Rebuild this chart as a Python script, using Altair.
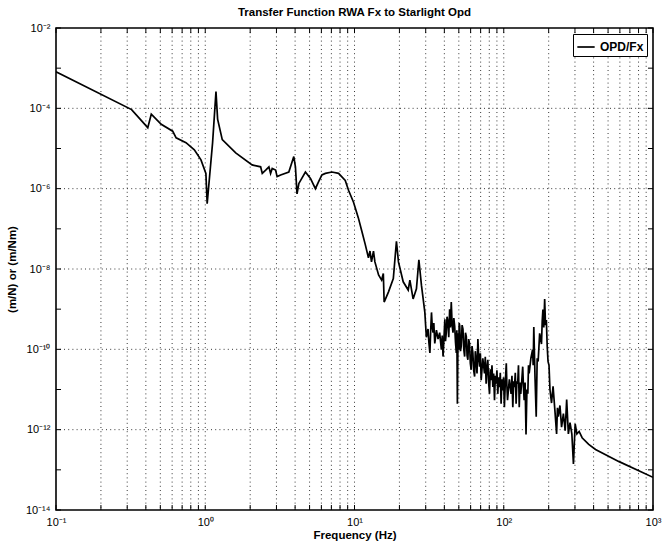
import altair as alt
import pandas as pd

# Transfer function magnitude, reaction-wheel force Fx -> starlight OPD
# Structural resonance region, 0.1 - 28 Hz
low_freq_hz = [
    0.1, 0.321, 0.412, 0.435, 0.507, 0.605, 0.638, 0.743, 0.845, 0.936,
    1.01, 1.03, 1.12, 1.18, 1.21, 1.30, 1.60, 2.06, 2.35, 2.41,
    2.54, 2.67, 2.74, 2.81, 2.96, 3.03, 3.20, 3.63, 3.92, 4.02,
    4.12, 4.24, 4.69, 5.07, 5.47, 5.75, 6.05, 6.38, 7.06, 7.82,
    8.67, 9.12, 9.85, 10.6, 11.2, 11.8, 12.4, 12.7, 13.0, 13.4,
    13.7, 14.5, 15.2, 15.6, 15.8, 16.9, 18.2, 19.1, 19.7, 21.2,
    22.9, 23.5, 24.7, 26.0, 27.0, 28.1,
]
low_opd_per_fx = [
    8.1e-4, 9.3e-5, 3.3e-5, 7.2e-5, 4.0e-5, 2.7e-5, 1.85e-5, 1.4e-5, 9.3e-6, 5.2e-6,
    2.4e-6, 4.2e-7, 1.4e-5, 2.6e-4, 5.4e-5, 1.66e-5, 7.8e-6, 3.9e-6, 3.5e-6, 2.4e-6,
    2.9e-6, 3.5e-6, 2.4e-6, 3.2e-6, 2.9e-6, 2.0e-6, 2.2e-6, 2.6e-6, 6.3e-6, 3.5e-6,
    7.4e-7, 1.35e-6, 2.6e-6, 1.8e-6, 1.0e-6, 1.5e-6, 2.2e-6, 2.4e-6, 2.6e-6, 2.4e-6,
    1.6e-6, 9.1e-7, 4.6e-7, 1.9e-7, 8.7e-8, 4.1e-8, 1.9e-8, 2.8e-8, 1.5e-8, 2.8e-8,
    1.5e-8, 7.1e-9, 5.3e-9, 7.7e-9, 1.5e-9, 2.7e-9, 5.8e-9, 4.9e-8, 1.5e-8, 4.8e-9,
    3.0e-9, 5.3e-9, 1.8e-9, 3.2e-9, 1.7e-8, 3.9e-9,
]

# Broadband wheel-harmonic region, 29.6 - 1000 Hz
high_freq_hz = [
    29.6, 30.3, 31.1, 31.5, 32.0, 32.4, 32.8, 33.2, 33.6, 34.0,
    34.5, 35.4, 36.3, 37.2, 38.2, 38.7, 39.2, 39.8, 40.3, 40.7,
    41.2, 41.7, 42.3, 42.8, 43.4, 43.9, 44.5, 45.1, 45.7, 46.3,
    46.9, 47.5, 48.1, 48.5, 48.9, 49.4, 49.9, 50.3, 50.7, 51.3,
    51.9, 52.6, 53.3, 54.0, 54.7, 55.4, 56.1, 56.8, 57.5, 58.2,
    59.0, 59.7, 60.5, 61.3, 62.1, 62.9, 63.8, 64.5, 65.3, 66.2,
    67.1, 68.0, 68.9, 69.7, 70.6, 72.4, 74.3, 75.2, 76.2, 77.2,
    78.2, 79.2, 80.3, 81.3, 82.3, 83.4, 84.5, 85.6, 86.7, 87.8,
    88.9, 90.0, 91.2, 92.4, 93.6, 94.8, 96.0, 97.2, 98.5, 99.7,
    101, 102.5, 104, 105, 106, 109, 112, 113.5, 115, 116.5,
    118, 119.5, 121, 122.5, 124, 125.5, 127, 128.5, 130, 132,
    134, 135.5, 137, 139, 141, 143, 145, 146.5, 148, 152,
    156, 157.5, 159, 162, 165, 167.5, 170, 174, 179, 181,
    183, 185.5, 188, 190.5, 193, 195.5, 198, 201, 204, 209,
    214, 220, 226, 229, 232, 238, 244, 251, 258, 264,
    271, 278, 286, 293, 301, 309, 320, 335, 371, 412,
    593, 1000,
]
high_opd_per_fx = [
    8.3e-10, 2.0e-10, 3.2e-10, 1.5e-10, 8.1e-11, 3.0e-10, 8.3e-10, 3.5e-10, 2.6e-10, 4.5e-10,
    1.4e-10, 3.0e-10, 1.8e-10, 2.6e-10, 9.8e-11, 2.2e-10, 6.6e-11, 2.0e-10, 5.6e-10, 1.6e-10,
    2.6e-10, 6.5e-10, 4.7e-10, 2.0e-10, 1.0e-9, 3.5e-10, 1.5e-9, 4.0e-10, 2.6e-10, 6.0e-10,
    3.8e-10, 1.5e-10, 8.1e-11, 3.0e-10, 4.4e-12, 2.5e-10, 9.8e-11, 4.5e-10, 3.8e-10, 9.0e-11,
    1.2e-10, 4.0e-10, 3.2e-10, 1.0e-10, 6.6e-11, 2.6e-10, 2.1e-10, 7.0e-11, 5.5e-11, 1.8e-10,
    1.4e-10, 4.5e-11, 3.1e-11, 1.2e-10, 8.1e-11, 3.0e-11, 2.1e-11, 9.0e-11, 5.5e-11, 2.5e-11,
    1.8e-10, 6.0e-11, 3.7e-11, 8.0e-11, 1.7e-11, 6.0e-11, 2.5e-11, 6.5e-11, 1.4e-11, 3.5e-11,
    5.5e-11, 1.5e-11, 7.8e-12, 3.2e-11, 1.7e-11, 4.0e-11, 1.15e-11, 2.5e-11, 5.4e-12, 2.2e-11,
    1.4e-11, 3.0e-11, 7.8e-12, 2.0e-11, 1.15e-11, 2.6e-11, 4.4e-12, 1.8e-11, 9.5e-12, 2.0e-11,
    3.6e-12, 1.6e-11, 4.5e-11, 1.2e-11, 5.4e-12, 1.8e-11, 7.8e-12, 2.2e-11, 3.6e-12, 1.6e-11,
    1.15e-11, 2.6e-11, 4.4e-12, 1.6e-11, 1.4e-11, 4.0e-11, 3.6e-12, 1.5e-11, 7.8e-12, 1.6e-11,
    3.7e-11, 1.2e-11, 5.4e-12, 1.5e-11, 7.6e-13, 1.0e-11, 7.8e-12, 4.0e-11, 2.5e-11, 6.0e-11,
    9.8e-11, 4.0e-11, 3.6e-10, 2.0e-11, 2.1e-12, 6.0e-11, 5.0e-11, 2.5e-10, 1.35e-10, 5.0e-10,
    9.8e-10, 3.5e-10, 1.8e-9, 4.0e-10, 5.4e-10, 1.2e-10, 5.0e-11, 4.0e-11, 1.0e-11, 4.6e-12,
    1.2e-11, 3.1e-12, 7.8e-13, 3.5e-12, 2.1e-12, 4.0e-12, 1.15e-12, 2.5e-12, 9.4e-13, 5.6e-12,
    7.8e-13, 1.5e-12, 7.8e-13, 1.4e-13, 1.4e-12, 7.8e-13, 9.0e-13, 6.3e-13, 4.3e-13, 3.2e-13,
    1.6e-13, 6.5e-14,
]
series_name = "OPD/Fx"

assert len(low_freq_hz) == len(low_opd_per_fx)
assert len(high_freq_hz) == len(high_opd_per_fx)

# Axis tick positions (log decades and in-between multiples)
x_decades = [0.1, 1, 10, 100, 1000]
x_minor = [m * d for d in [0.1, 1, 10, 100] for m in range(2, 10)]
y_decades = [10.0 ** e for e in range(-14, -1)]
y_labeled = [10.0 ** e for e in range(-14, -1, 2)]

W, H = 597, 482
FONT = "Liberation Sans"
SUP = str.maketrans("-0123456789", "⁻⁰¹²³⁴⁵⁶⁷⁸⁹")


def power_label_expr(exponents):
    expr = "''"
    for e in exponents:
        text = "10" + str(e).translate(SUP)
        expr = f"round(log(datum.value) / LN10) == {e} ? '{text}' : ({expr})"
    return expr


x_scale = alt.Scale(type="log", domain=[0.1, 1000], nice=False)
y_scale = alt.Scale(type="log", domain=[1e-14, 1e-2], nice=False)

# one axis definition shared by every layer so the merged axis keeps it
x_axis = alt.Axis(
    values=x_decades,
    labelExpr=power_label_expr([-1, 0, 1, 2, 3]),
    grid=False, ticks=False, domain=False,
    title="Frequency (Hz)",
    labelFont=FONT, labelFontSize=11, labelColor="black",
    titleFont=FONT, titleFontSize=11.5, titleFontWeight="bold", titleColor="black",
    labelPadding=6, titlePadding=2, labelFlush=False,
)
y_axis = alt.Axis(
    values=y_labeled,
    labelExpr=power_label_expr(list(range(-14, -1, 2))),
    grid=False, ticks=False, domain=False,
    title="(m/N) or (m/Nm)",
    labelFont=FONT, labelFontSize=11, labelColor="black",
    titleFont=FONT, titleFontSize=11.5, titleFontWeight="bold", titleColor="black",
    labelPadding=6, titlePadding=8, labelFlush=False,
)


def X():
    return alt.X("freq:Q", scale=x_scale, axis=x_axis)


def Y():
    return alt.Y("mag:Q", scale=y_scale, axis=y_axis)


dot_style = dict(color="#222222", strokeWidth=0.9, strokeDash=[1, 3.2])

vgrid = alt.Chart(pd.DataFrame({"freq": x_minor + x_decades[1:-1]})).mark_rule(**dot_style).encode(x=X())
hgrid = alt.Chart(pd.DataFrame({"mag": y_labeled[1:-1]})).mark_rule(**dot_style).encode(y=Y())

# inward tick marks on all four sides of the box
xt_df = pd.DataFrame({"freq": x_minor + x_decades})
x_ticks_bottom = alt.Chart(xt_df).mark_rule(color="black", strokeWidth=1).encode(
    x=X(), y=alt.value(H), y2=alt.value(H - 5)
)
x_ticks_top = alt.Chart(xt_df).mark_rule(color="black", strokeWidth=1).encode(
    x=X(), y=alt.value(0), y2=alt.value(5)
)
yt_df = pd.DataFrame({"mag": y_decades})
y_ticks_left = alt.Chart(yt_df).mark_rule(color="black", strokeWidth=1).encode(
    y=Y(), x=alt.value(0), x2=alt.value(5)
)
y_ticks_right = alt.Chart(yt_df).mark_rule(color="black", strokeWidth=1).encode(
    y=Y(), x=alt.value(W), x2=alt.value(W - 5)
)

line_df = pd.DataFrame({
    "freq": low_freq_hz + high_freq_hz,
    "mag": low_opd_per_fx + high_opd_per_fx,
    "series": series_name,
})
curve = alt.Chart(line_df).mark_line(strokeWidth=1.7, clip=True).encode(
    x=X(),
    y=Y(),
    order=alt.Order("freq:Q"),
    color=alt.Color(
        "series:N",
        scale=alt.Scale(range=["black"]),
        legend=alt.Legend(
            title=None, orient="top-right", offset=6,
            symbolType="stroke", symbolSize=300, symbolStrokeWidth=1.7,
            labelFont=FONT, labelFontSize=12, labelFontWeight="bold", labelColor="black",
            strokeColor="black", fillColor="white", padding=3, cornerRadius=0,
        ),
    ),
)

chart = (
    alt.layer(vgrid, hgrid, x_ticks_bottom, x_ticks_top, y_ticks_left, y_ticks_right, curve)
    .properties(
        width=W,
        height=H,
        title=alt.TitleParams(
            "Transfer Function RWA Fx to Starlight Opd",
            font=FONT, fontSize=11.5, fontWeight="bold", color="black",
            anchor="middle", offset=4,
        ),
        autosize=alt.AutoSizeParams(type="none"),
        padding={"left": 56, "top": 28, "right": 10, "bottom": 31},
        background="white",
    )
    .configure_view(stroke="black", strokeWidth=1.6)
)

chart.save("out.html", embed_options={"renderer": "svg", "actions": False})
